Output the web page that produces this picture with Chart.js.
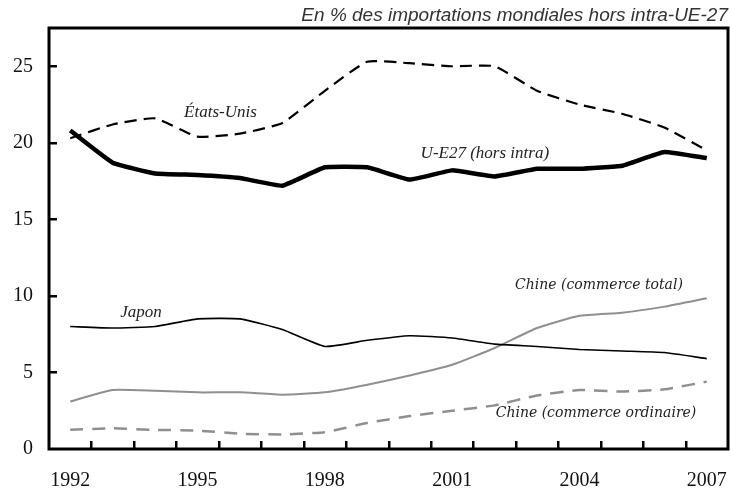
<!DOCTYPE html>
<html>
<head>
<meta charset="utf-8">
<script src="https://cdn.jsdelivr.net/npm/chart.js@4"></script>
<style>
html,body{margin:0;padding:0;background:#fff;}
#wrap{width:731px;height:493px;}
</style>
</head>
<body>
<div id="wrap"><canvas id="c" width="731" height="493"></canvas></div>
<script>
const years = ['1992','1993','1994','1995','1996','1997','1998','1999','2000','2001','2002','2003','2004','2005','2006','2007'];
const etatsUnis = [20.3, 21.2, 21.6, 20.4, 20.6, 21.3, 23.4, 25.3, 25.2, 25.0, 25.0, 23.4, 22.5, 21.9, 21.0, 19.5];
const ue27 = [20.8, 18.7, 18.0, 17.9, 17.7, 17.2, 18.4, 18.4, 17.6, 18.2, 17.8, 18.3, 18.3, 18.5, 19.4, 19.0];
const japon = [8.0, 7.9, 8.0, 8.5, 8.5, 7.8, 6.7, 7.1, 7.4, 7.25, 6.85, 6.7, 6.5, 6.4, 6.3, 5.9];
const chineTotal = [3.1, 3.85, 3.8, 3.7, 3.7, 3.55, 3.7, 4.2, 4.8, 5.5, 6.6, 7.9, 8.7, 8.9, 9.3, 9.85];
const chineOrdinaire = [1.25, 1.35, 1.25, 1.2, 1.0, 0.95, 1.1, 1.7, 2.15, 2.5, 2.85, 3.5, 3.85, 3.75, 3.9, 4.4];
const shownYearLabels = ['1992','1995','1998','2001','2004','2007'];
const yTicks = [0, 5, 10, 15, 20, 25];
const titleText = 'En % des importations mondiales hors intra-UE-27';
const seriesLabels = ['États-Unis', 'U-E27 (hors intra)', 'Japon', 'Chine (commerce total)', 'Chine (commerce ordinaire)'];

const GRAY = '#8f8f8f';

const decor = {
  id: 'decor',
  afterDraw(chart) {
    const ctx = chart.ctx, a = chart.chartArea;
    const xs = chart.scales.x, ys = chart.scales.y;
    ctx.save();
    ctx.fillStyle = '#000';
    // inward tick marks on the x axis (between categories)
    for (let i = 0; i < years.length - 1; i++) {
      const x = Math.round((xs.getPixelForValue(i) + xs.getPixelForValue(i + 1)) / 2);
      ctx.fillRect(x - 1, a.bottom - 8, 2.5, 8);
    }
    // inward tick marks on the y axis
    yTicks.forEach(v => {
      if (v === 0) return;
      const y = Math.round(ys.getPixelForValue(v));
      ctx.fillRect(a.left, y - 1, 8, 2.5);
    });
    // frame
    ctx.strokeStyle = '#000';
    ctx.lineWidth = 3;
    ctx.strokeRect(a.left, a.top, a.right - a.left, a.bottom - a.top);
    // title
    ctx.fillStyle = '#333';
    ctx.font = 'italic 19px "Liberation Sans"';
    ctx.textAlign = 'right';
    ctx.textBaseline = 'alphabetic';
    ctx.fillText(titleText, a.right, 21);
    // series labels anchored in data space (category index, value)
    const anchors = [
      [3.54, 22.0, 'italic 17px "Liberation Serif"'],
      [9.77, 19.3, 'italic 17px "Liberation Serif"'],
      [1.67, 8.9, 'italic 17px "Liberation Serif"'],
      [12.46, 10.7, 'italic 14px "DejaVu Serif"'],
      [12.39, 2.35, 'italic 14px "DejaVu Serif"']
    ];
    ctx.textAlign = 'center';
    ctx.textBaseline = 'middle';
    ctx.fillStyle = '#222';
    const step = xs.getPixelForValue(1) - xs.getPixelForValue(0);
    anchors.forEach((an, k) => {
      const x = xs.getPixelForValue(0) + step * an[0];
      const y = ys.getPixelForValue(an[1]);
      ctx.font = an[2];
      ctx.fillText(seriesLabels[k], x, y);
    });
    ctx.restore();
  }
};

new Chart(document.getElementById('c'), {
  type: 'line',
  data: {
    labels: years,
    datasets: [
      { label: seriesLabels[0], data: etatsUnis, borderColor: '#000', borderWidth: 2.2, borderDash: [12, 7], pointRadius: 0, tension: 0.15 },
      { label: seriesLabels[1], data: ue27, borderColor: '#000', borderWidth: 4.5, pointRadius: 0, tension: 0.1 },
      { label: seriesLabels[2], data: japon, borderColor: '#000', borderWidth: 1.6, pointRadius: 0, tension: 0.15 },
      { label: seriesLabels[3], data: chineTotal, borderColor: GRAY, borderWidth: 2, pointRadius: 0, tension: 0.15 },
      { label: seriesLabels[4], data: chineOrdinaire, borderColor: GRAY, borderWidth: 2.5, borderDash: [13, 9], pointRadius: 0, tension: 0.15 }
    ]
  },
  options: {
    responsive: false,
    animation: false,
    layout: { padding: { left: 0, right: 3, top: 28, bottom: 0 } },
    plugins: { legend: { display: false }, tooltip: { enabled: false } },
    scales: {
      x: {
        offset: true,
        grid: { display: false, drawTicks: false, offset: true },
        border: { display: false },
        ticks: {
          autoSkip: false, maxRotation: 0, padding: 20,
          color: '#111',
          font: { family: '"Liberation Serif"', size: 20 },
          callback: function(v, i) { const l = years[i]; return shownYearLabels.includes(l) ? l : ''; }
        },
        afterFit: s => { s.height = 44; s.paddingLeft = 0; s.paddingRight = 0; }
      },
      y: {
        min: 0, max: 27.5,
        grid: { display: false, drawTicks: false },
        border: { display: false },
        ticks: {
          stepSize: 5, includeBounds: false, padding: 16,
          color: '#111',
          font: { family: '"Liberation Serif"', size: 20 },
          callback: v => yTicks.includes(v) ? String(v) : ''
        },
        afterFit: s => { s.width = 49; s.paddingTop = 0; s.paddingBottom = 0; }
      }
    }
  },
  plugins: [decor]
});
</script>
</body>
</html>
